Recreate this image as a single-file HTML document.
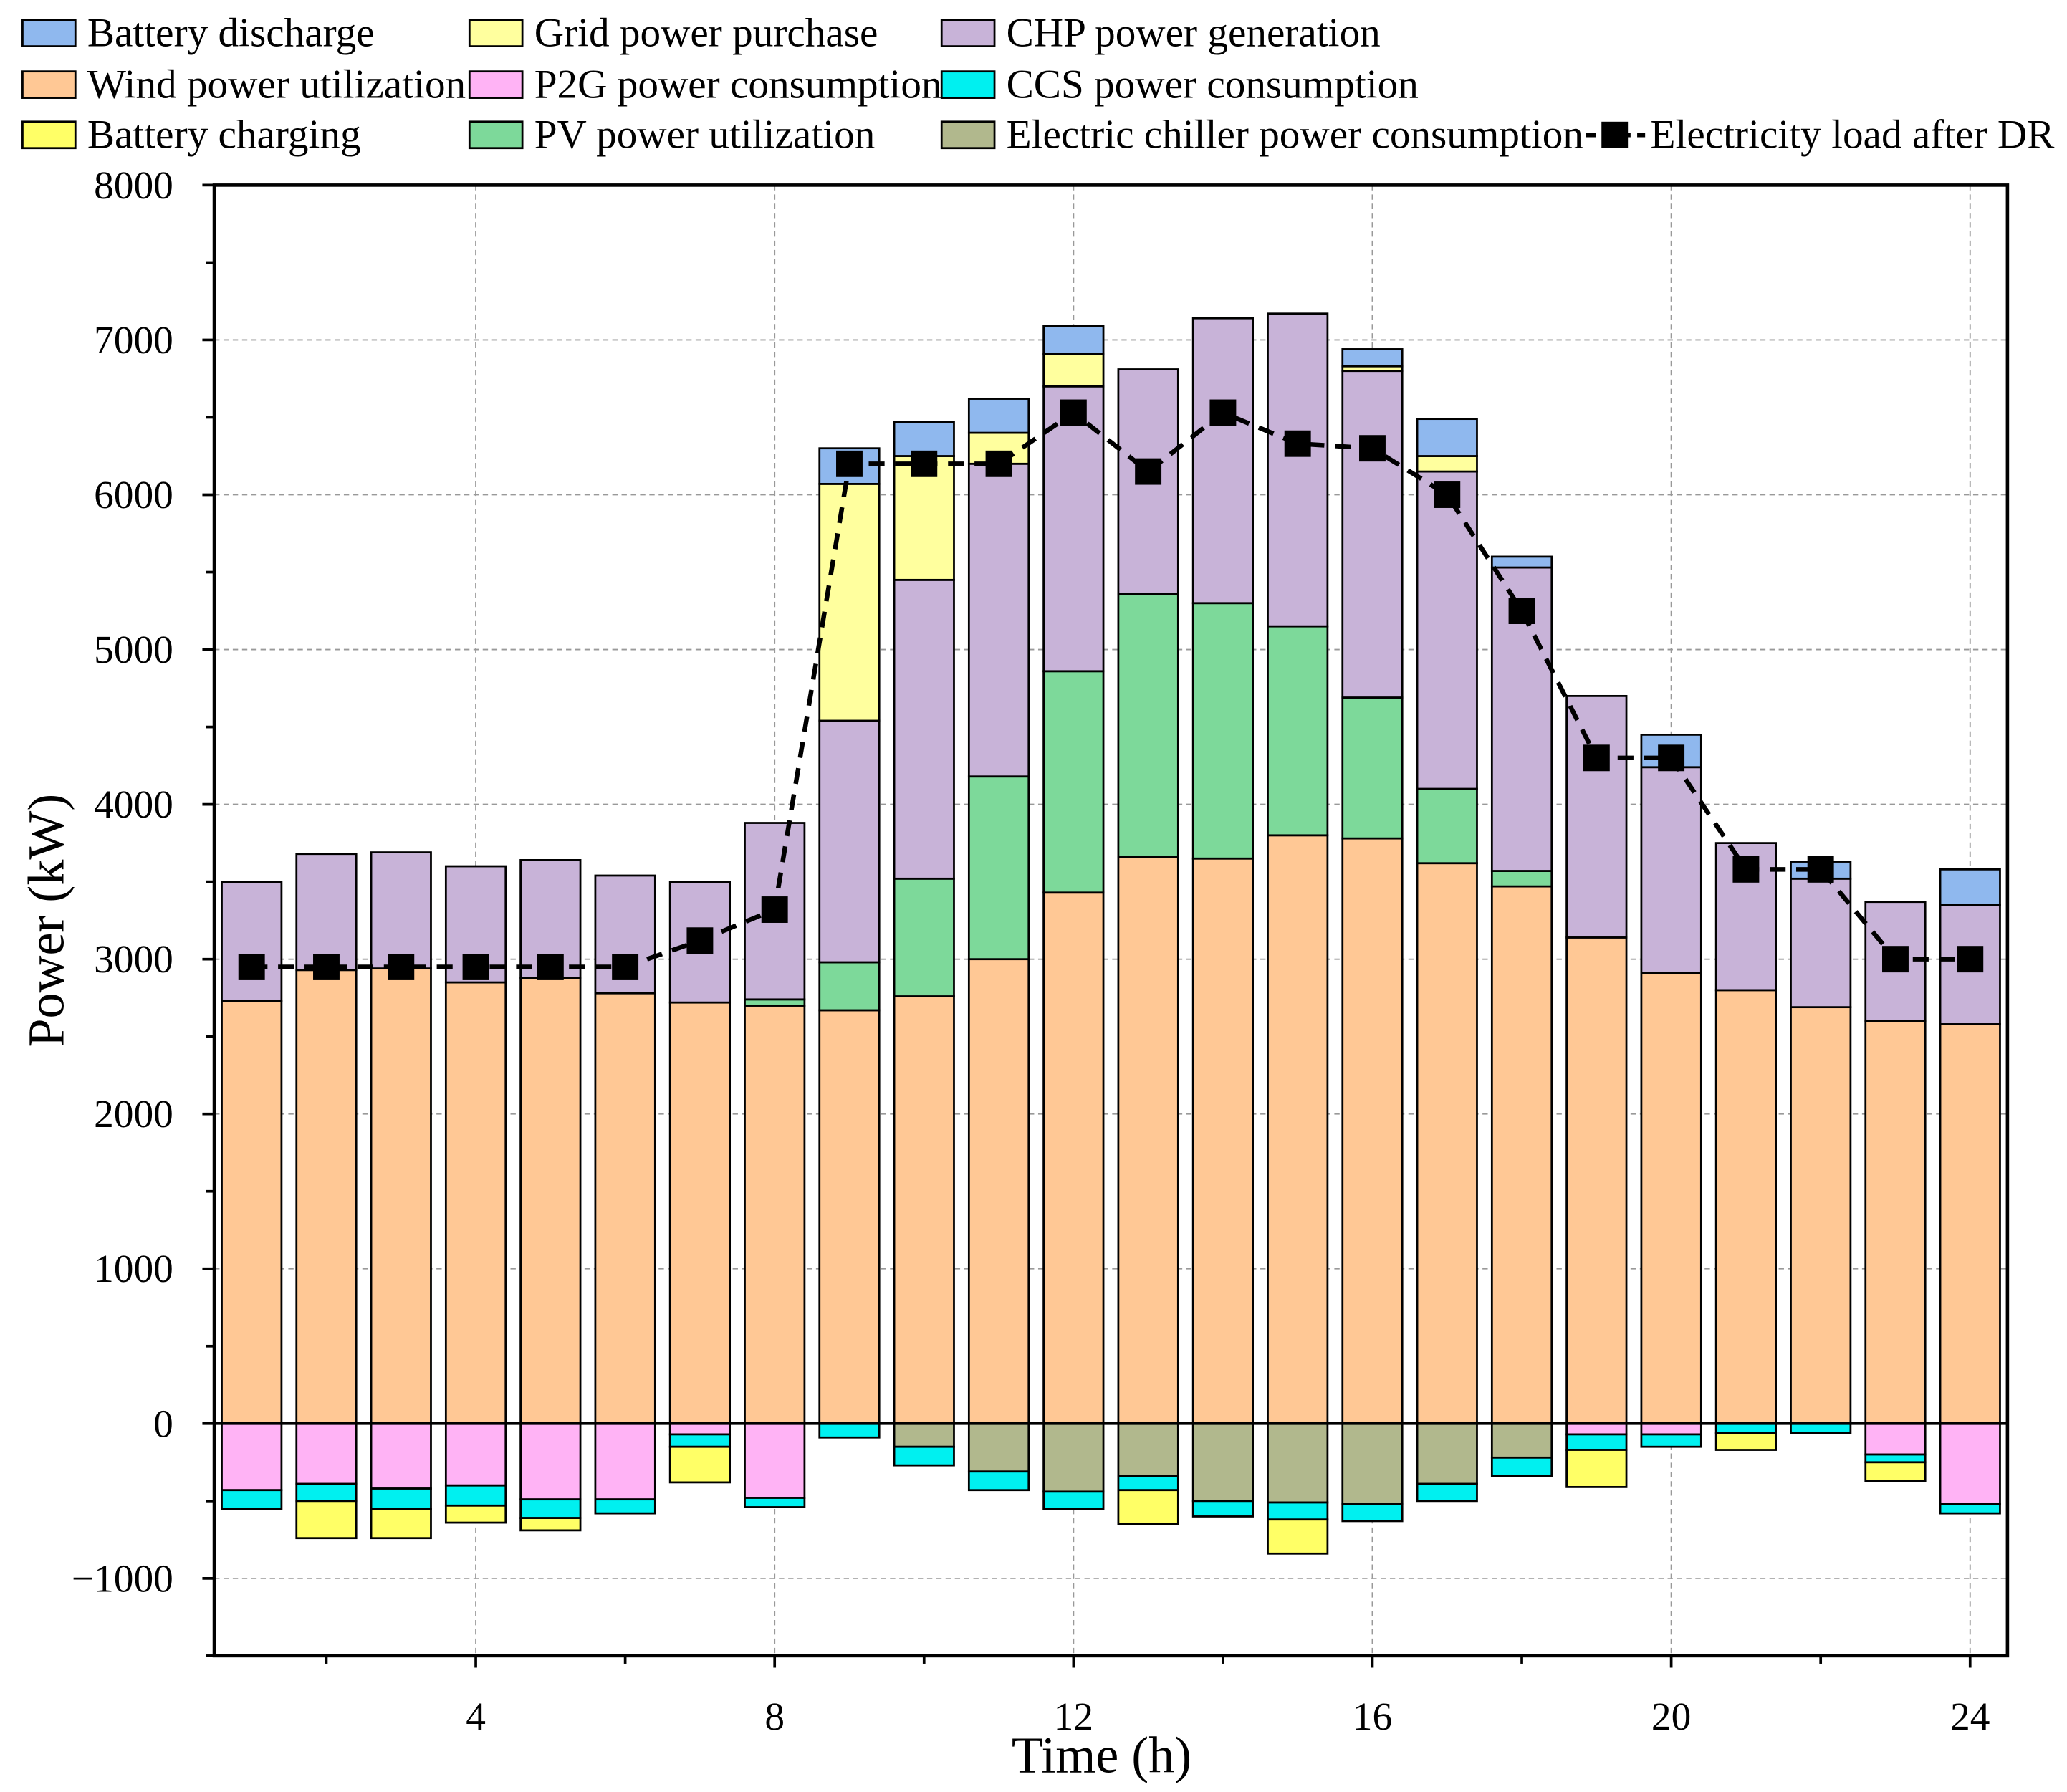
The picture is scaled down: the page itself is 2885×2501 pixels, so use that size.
<!DOCTYPE html>
<html><head><meta charset="utf-8"><style>
html,body{margin:0;padding:0;background:#fff}
svg{display:block;font-family:"Liberation Serif",serif}
svg text{font-family:"Liberation Serif",serif;fill:#000}
</style></head><body>
<svg id="chart" width="2885" height="2501" viewBox="0 0 1563 1355" xmlns="http://www.w3.org/2000/svg" font-family="Liberation Serif, serif">
<g id="grid"></g>
<g id="bars"></g>
<g id="axes"></g>
<g id="line"></g>
<g id="legend"></g>
</svg>
<script>
const hours=[1,2,3,4,5,6,7,8,9,10,11,12,13,14,15,16,17,18,19,20,21,22,23,24];
const wind=[2730,2930,2940,2850,2880,2780,2720,2700,2670,2760,3000,3430,3660,3650,3800,3780,3620,3470,3140,2910,2800,2690,2600,2580];
const pv=[0,0,0,0,0,0,0,40,310,760,1180,1430,1700,1650,1350,910,480,100,0,0,0,0,0,0];
const chp=[770,750,750,750,760,760,780,1140,1560,1930,2020,1840,1450,1840,2020,2110,2050,1960,1560,1330,950,830,770,770];
const grid=[0,0,0,0,0,0,0,0,1530,800,200,210,0,0,0,30,100,0,0,0,0,0,0,0];
const batDis=[0,0,0,0,0,0,0,0,230,220,220,180,0,0,0,110,240,70,0,210,0,110,0,230];
const p2g=[430,390,420,400,490,490,70,480,0,0,0,0,0,0,0,0,0,0,70,70,0,0,200,520];
const chiller=[0,0,0,0,0,0,0,0,0,150,310,440,340,500,510,520,390,220,0,0,0,0,0,0];
const ccs=[120,110,130,130,120,90,80,60,90,120,120,110,90,100,110,110,110,120,100,80,60,60,50,60];
const batCh=[0,240,190,110,80,0,230,0,0,0,0,0,220,0,220,0,0,0,240,0,110,0,120,0];
const load=[2950,2950,2950,2950,2950,2950,3120,3320,6200,6200,6200,6530,6150,6530,6330,6300,6000,5250,4300,4300,3580,3580,3000,3000];
const yTicks=[-1000,0,1000,2000,3000,4000,5000,6000,7000,8000];
const xTicks=[4,8,12,16,20,24];
const NS='http://www.w3.org/2000/svg';
const FF='Liberation Serif, serif';
const L=162,R=1518,T=140,B=1252,xmin=0.5,xmax=24.5,ymin=-1500,ymax=8000;
const X=v=>L+(v-xmin)/(xmax-xmin)*(R-L);
const Y=v=>B-(v-ymin)/(ymax-ymin)*(B-T);
function mk(tag,attrs,parent){const e=document.createElementNS(NS,tag);for(const k in attrs)e.setAttribute(k,attrs[k]);if(tag==='text')e.setAttribute('font-family',FF);parent.appendChild(e);return e;}
const gG=document.getElementById('grid'),gB=document.getElementById('bars'),gA=document.getElementById('axes'),gL=document.getElementById('line'),gLg=document.getElementById('legend');
yTicks.forEach(v=>{if(v===0||v===8000)return;const l=mk('line',{x1:L,x2:R,y1:Y(v),y2:Y(v),stroke:'#999','stroke-dasharray':'4,3','stroke-width':1},gG);

});
xTicks.forEach(v=>{const l=mk('line',{x1:X(v),x2:X(v),y1:T,y2:B,stroke:'#999','stroke-dasharray':'4,3','stroke-width':1},gG);

});
const pos=[[wind,'#FFC895','wind'],[pv,'#7DD99A','pv'],[chp,'#C8B3D8','chp'],[grid,'#FFFF9E','grid'],[batDis,'#8FB8EE','battery-discharge']];
const neg=[[p2g,'#FFB3F5','p2g'],[chiller,'#B1B88D','chiller'],[ccs,'#00F0F0','ccs'],[batCh,'#FFFF66','battery-charging']];
const bw=0.8;
hours.forEach((h,i)=>{
  let c=0;
  pos.forEach(([arr,col,nm])=>{const v=arr[i];if(v<=0)return;const r=mk('rect',{x:X(h-bw/2),width:X(h+bw/2)-X(h-bw/2),y:Y(c+v),height:Y(c)-Y(c+v),fill:col,stroke:'#000','stroke-width':1.5},gB);
    
    c+=v;});
  c=0;
  neg.forEach(([arr,col,nm])=>{const v=arr[i];if(v<=0)return;const r=mk('rect',{x:X(h-bw/2),width:X(h+bw/2)-X(h-bw/2),y:Y(c),height:Y(c-v)-Y(c),fill:col,stroke:'#000','stroke-width':1.5},gB);
    
    c-=v;});
});
{const l=mk('line',{x1:L,x2:R,y1:Y(0),y2:Y(0),stroke:'#000','stroke-width':2},gA);

}
{const f=mk('rect',{x:L,y:T,width:R-L,height:B-T,fill:'none',stroke:'#000','stroke-width':2.5},gA);

}
for(let v=-1500;v<=8000;v+=500){const major=v%1000===0;const t=mk('line',{x1:L-(major?9:6),x2:L,y1:Y(v),y2:Y(v),stroke:'#000','stroke-width':2},gA);

}
yTicks.forEach(v=>{const t=mk('text',{x:L-31,y:Y(v)+10,'text-anchor':'end','font-size':30},gA);t.textContent=v<0?'\u2212'+Math.abs(v):v;

});
for(let v=2;v<=24;v+=2){const major=v%4===0;const t=mk('line',{x1:X(v),x2:X(v),y1:B,y2:B+(major?9:6),stroke:'#000','stroke-width':2},gA);

}
xTicks.forEach(v=>{const t=mk('text',{x:X(v),y:B+56,'text-anchor':'middle','font-size':30},gA);t.textContent=v;

});
{const t=mk('text',{x:833,y:1340,'text-anchor':'middle','font-size':39},gA);t.textContent='Time (h)';

}
{const t=mk('text',{x:48,y:696,'text-anchor':'middle','font-size':39,transform:'rotate(-90 48 696)'},gA);t.textContent='Power (kW)';

}
{const p=mk('polyline',{points:hours.map((h,i)=>X(h)+','+Y(load[i])).join(' '),fill:'none',stroke:'#000','stroke-width':3.5,'stroke-dasharray':'12,8'},gL);

}
hours.forEach((h,i)=>{const m=mk('rect',{x:X(h)-10,y:Y(load[i])-10,width:20,height:20,fill:'#000'},gL);

});
const legItems=[['Battery discharge','#8FB8EE',17,25],['Grid power purchase','#FFFF9E',355,25],['CHP power generation','#C8B3D8',712,25],
['Wind power utilization','#FFC895',17,64],['P2G power consumption','#FFB3F5',355,64],['CCS power consumption','#00F0F0',712,64],
['Battery charging','#FFFF66',17,102],['PV power utilization','#7DD99A',355,102],['Electric chiller power consumption','#B1B88D',712,102]];
legItems.forEach(([txt,col,x,y])=>{const g=mk('g',{},gLg);


mk('rect',{x:x,y:y-10,width:40,height:20,fill:col,stroke:'#000','stroke-width':1.5},g);
const t=mk('text',{x:x+49,y:y+10,'font-size':31},g);t.textContent=txt;});
{const g=mk('g',{},gLg);


mk('line',{x1:1199,x2:1244,y1:102,y2:102,stroke:'#000','stroke-width':3.5,'stroke-dasharray':'8,5'},g);
mk('rect',{x:1211,y:92,width:20,height:20,fill:'#000'},g);
const t=mk('text',{x:1248,y:112,'font-size':31},g);t.textContent='Electricity load after DR';}
</script>
</body></html>
